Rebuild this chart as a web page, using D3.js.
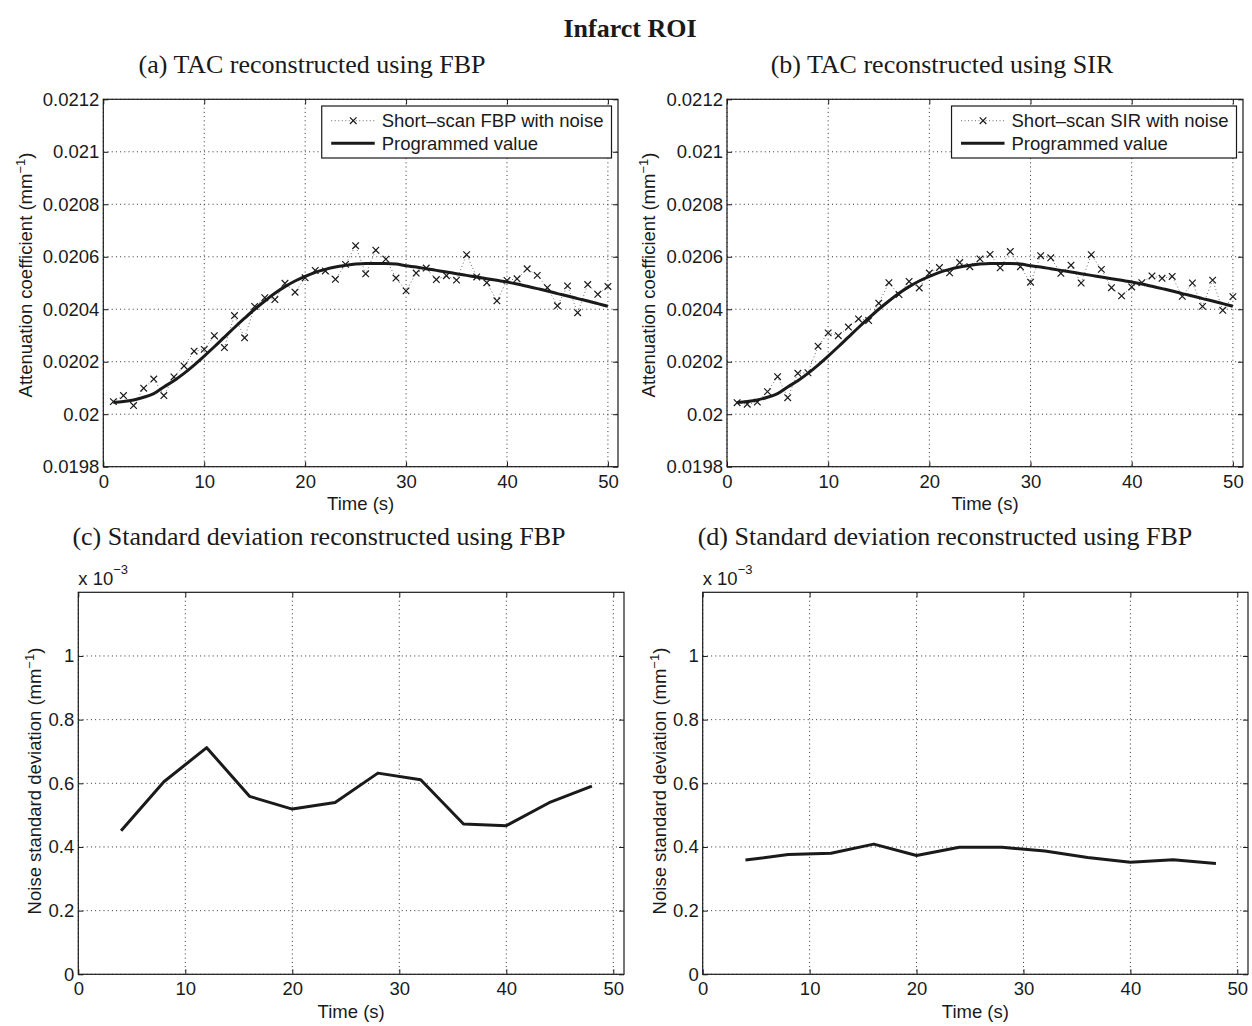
<!DOCTYPE html>
<html>
<head>
<meta charset="utf-8">
<script src="https://cdn.jsdelivr.net/npm/d3@7"></script>
<style>
  body { margin: 0; background: #fff; }
  svg { display: block; }
  .tick text { font-family: "Liberation Sans", Arial, sans-serif; font-size: 18.5px; fill: #1a1a1a; }
  .tick line { stroke: #1a1a1a; }
</style>
</head>
<body>
<div id="chart"></div>
<script>
// time axis of the TAC panels (s)
const time = [1,2,3,4,5,6,7,8,9,10,11,12,13,14,15,16,17,18,19,20,21,22,23,24,25,
              26,27,28,29,30,31,32,33,34,35,36,37,38,39,40,41,42,43,44,45,46,47,48,49,50];

// attenuation coefficient (mm^-1)
const fbpNoisy = [0.020048, 0.020071, 0.020033, 0.020099, 0.020134, 0.020071, 0.020142, 0.020184, 0.020240, 0.020247,
                  0.020299, 0.020254, 0.020376, 0.020291, 0.020411, 0.020444, 0.020437, 0.020499, 0.020465, 0.020520,
                  0.020548, 0.020546, 0.020514, 0.020571, 0.020642, 0.020535, 0.020625, 0.020591, 0.020519, 0.020470,
                  0.020538, 0.020557, 0.020513, 0.020528, 0.020511, 0.020608, 0.020523, 0.020501, 0.020432, 0.020510,
                  0.020516, 0.020554, 0.020529, 0.020482, 0.020413, 0.020489, 0.020387, 0.020494, 0.020457, 0.020487];

const sirNoisy = [0.020044, 0.020038, 0.020046, 0.020086, 0.020143, 0.020063, 0.020156, 0.020158, 0.020259, 0.020310,
                  0.020299, 0.020332, 0.020363, 0.020357, 0.020423, 0.020501, 0.020456, 0.020506, 0.020481, 0.020538,
                  0.020559, 0.020539, 0.020578, 0.020562, 0.020592, 0.020609, 0.020558, 0.020620, 0.020562, 0.020503,
                  0.020604, 0.020596, 0.020537, 0.020568, 0.020500, 0.020608, 0.020552, 0.020482, 0.020451, 0.020485,
                  0.020501, 0.020527, 0.020518, 0.020525, 0.020449, 0.020500, 0.020411, 0.020511, 0.020396, 0.020448];

const programmed = [0.0200443, 0.0200481, 0.0200544, 0.0200646, 0.0200785, 0.0201038, 0.0201278, 0.0201557, 0.0201873, 0.0202215,
                    0.0202570, 0.0202937, 0.0203304, 0.0203658, 0.0204000, 0.0204316, 0.0204608, 0.0204861, 0.0205076, 0.0205253,
                    0.0205405, 0.0205519, 0.0205608, 0.0205671, 0.0205722, 0.0205747, 0.0205747, 0.0205747, 0.0205722, 0.0205658,
                    0.0205608, 0.0205544, 0.0205481, 0.0205418, 0.0205354, 0.0205291, 0.0205228, 0.0205165, 0.0205101, 0.0205038,
                    0.0204962, 0.0204873, 0.0204785, 0.0204696, 0.0204595, 0.0204506, 0.0204405, 0.0204316, 0.0204215, 0.0204114];

// noise standard deviation (x 10^-3 mm^-1)
const stdTime = [4, 8, 12, 16, 20, 24, 28, 32, 36, 40, 44, 48];
const fbpStd = [0.451, 0.605, 0.712, 0.559, 0.519, 0.540, 0.632, 0.611, 0.472, 0.467, 0.539, 0.591];
const sirStd = [0.359, 0.376, 0.380, 0.409, 0.373, 0.399, 0.399, 0.387, 0.367, 0.352, 0.360, 0.348];

const timeTicks = [0, 10, 20, 30, 40, 50];
const tacTicks = [0.0198, 0.02, 0.0202, 0.0204, 0.0206, 0.0208, 0.021, 0.0212];
const stdTicks = [0, 0.2, 0.4, 0.6, 0.8, 1];

const W = 1252, H = 1026;
const ink = "#1a1a1a";
const sans = "'Liberation Sans', Arial, sans-serif";
const serif = "'Liberation Serif', 'Times New Roman', serif";

const svg = d3.select("#chart").append("svg")
    .attr("width", W)
    .attr("height", H);

svg.append("text")
    .attr("x", 630).attr("y", 37)
    .attr("text-anchor", "middle")
    .style("font-family", serif).style("font-size", "26px").style("font-weight", "bold")
    .style("fill", ink)
    .text("Infarct ROI");

const panels = [
  {title: "(a) TAC reconstructed using FBP", titleX: 312, titleY: 73,
   box: {left: 103.3, top: 99.3, right: 618, bottom: 466.7}, ylabX: 31.5, ylabY: 275,
   yDomain: [0.0198, 0.0212], yTicks: tacTicks, ylabel: "Attenuation coefficient (mm",
   noisy: fbpNoisy, noisyName: "Short\u2013scan FBP with noise"},
  {title: "(b) TAC reconstructed using SIR", titleX: 942, titleY: 73,
   box: {left: 727, top: 99.3, right: 1243, bottom: 466.7}, ylabX: 655, ylabY: 275,
   yDomain: [0.0198, 0.0212], yTicks: tacTicks, ylabel: "Attenuation coefficient (mm",
   noisy: sirNoisy, noisyName: "Short\u2013scan SIR with noise"},
  {title: "(c) Standard deviation reconstructed using FBP", titleX: 319, titleY: 545,
   box: {left: 78.3, top: 592.3, right: 624, bottom: 974.3}, ylabX: 41, ylabY: 781,
   yDomain: [0, 1.2], yTicks: stdTicks, ylabel: "Noise standard deviation (mm",
   std: fbpStd},
  {title: "(d) Standard deviation reconstructed using FBP", titleX: 945, titleY: 545,
   box: {left: 702.7, top: 592.3, right: 1248, bottom: 974.3}, ylabX: 665.5, ylabY: 781,
   yDomain: [0, 1.2], yTicks: stdTicks, ylabel: "Noise standard deviation (mm",
   std: sirStd}
];

panels.forEach(function(p) {
  let b = p.box;
  let w = b.right - b.left, h = b.bottom - b.top;

  svg.append("text")
      .attr("x", p.titleX).attr("y", p.titleY)
      .attr("text-anchor", "middle")
      .style("font-family", serif).style("font-size", "26px")
      .style("fill", ink)
      .text(p.title);

  let x = d3.scaleLinear().domain([0, 51]).range([0, w]);
  let y = d3.scaleLinear().domain(p.yDomain).range([h, 0]);

  let g = svg.append("g").attr("transform", `translate(${b.left},${b.top})`);

  // dotted grid
  g.append("g").selectAll("line").data(timeTicks).enter().append("line")
      .attr("x1", d => x(d)).attr("x2", d => x(d))
      .attr("y1", 0).attr("y2", h)
      .attr("stroke", "#333").attr("stroke-width", 1)
      .attr("stroke-dasharray", "1,3.2");
  g.append("g").selectAll("line").data(p.yTicks).enter().append("line")
      .attr("x1", 0).attr("x2", w)
      .attr("y1", d => y(d)).attr("y2", d => y(d))
      .attr("stroke", "#333").attr("stroke-width", 1)
      .attr("stroke-dasharray", "1,3.2");

  // axes with inward ticks
  let fmt = d => String(+d.toFixed(4));
  g.append("g").attr("transform", `translate(0,${h})`)
      .call(d3.axisBottom(x).tickValues(timeTicks).tickSize(-5).tickPadding(8).tickFormat(fmt))
      .call(a => a.select(".domain").remove());
  g.append("g")
      .call(d3.axisLeft(y).tickValues(p.yTicks).tickSize(-5).tickPadding(4).tickFormat(fmt))
      .call(a => a.select(".domain").remove());
  g.append("g")
      .call(d3.axisTop(x).tickValues(timeTicks).tickSize(-5).tickFormat(""))
      .call(a => a.select(".domain").remove());
  g.append("g").attr("transform", `translate(${w},0)`)
      .call(d3.axisRight(y).tickValues(p.yTicks).tickSize(-5).tickFormat(""))
      .call(a => a.select(".domain").remove());

  g.append("rect")
      .attr("width", w).attr("height", h)
      .attr("fill", "none").attr("stroke", ink).attr("stroke-width", 1.2);

  // axis labels
  svg.append("text")
      .attr("x", b.left + w / 2).attr("y", b.bottom + 43.5)
      .attr("text-anchor", "middle")
      .style("font-family", sans).style("font-size", "18.5px").style("fill", ink)
      .text("Time (s)");

  let yl = svg.append("text")
      .attr("transform", `translate(${p.ylabX},${p.ylabY}) rotate(-90)`)
      .attr("text-anchor", "middle")
      .style("font-family", sans).style("font-size", "18.5px").style("fill", ink);
  yl.append("tspan").text(p.ylabel);
  yl.append("tspan").attr("dy", -7).style("font-size", "13px").text("\u22121");
  yl.append("tspan").attr("dy", 7).text(")");

  if (p.noisy) {
    let pts = time.map((t, i) => [x(t), y(p.noisy[i])]);
    let cur = time.map((t, i) => [x(t), y(programmed[i])]);

    g.append("path")
        .attr("d", d3.line()(pts))
        .attr("fill", "none").attr("stroke", "#444")
        .attr("stroke-width", 0.8).attr("stroke-dasharray", "1,2.5");

    g.append("g").selectAll("path").data(pts).enter().append("path")
        .attr("d", d => `M${d[0]-3.3},${d[1]-3.3}L${d[0]+3.3},${d[1]+3.3}M${d[0]-3.3},${d[1]+3.3}L${d[0]+3.3},${d[1]-3.3}`)
        .attr("stroke", ink).attr("stroke-width", 1.2);

    g.append("path")
        .attr("d", d3.line().curve(d3.curveMonotoneX)(cur))
        .attr("fill", "none").attr("stroke", ink).attr("stroke-width", 3);

    // legend
    let lg = g.append("g");
    let box = lg.append("rect")
        .attr("y", 6.7).attr("height", 52)
        .attr("fill", "#fff").attr("stroke", ink).attr("stroke-width", 1.2);
    let t1 = lg.append("text")
        .attr("y", 6.7 + 14.7).attr("dy", "0.35em")
        .style("font-family", sans).style("font-size", "18.5px").style("fill", ink)
        .text(p.noisyName);
    let t2 = lg.append("text")
        .attr("y", 6.7 + 37.3).attr("dy", "0.35em")
        .style("font-family", sans).style("font-size", "18.5px").style("fill", ink)
        .text("Programmed value");
    let bw = 60 + Math.max(t1.node().getComputedTextLength(), t2.node().getComputedTextLength()) + 8;
    let bx = w - 6.5 - bw;
    box.attr("x", bx).attr("width", bw);
    t1.attr("x", bx + 60);
    t2.attr("x", bx + 60);
    let r1 = 6.7 + 14.7, r2 = 6.7 + 37.3;
    lg.append("line")
        .attr("x1", bx + 9.5).attr("x2", bx + 53).attr("y1", r1).attr("y2", r1)
        .attr("stroke", "#444").attr("stroke-width", 0.8).attr("stroke-dasharray", "1,2.5");
    let mx = bx + 31.5;
    lg.append("path")
        .attr("d", `M${mx-3.3},${r1-3.3}L${mx+3.3},${r1+3.3}M${mx-3.3},${r1+3.3}L${mx+3.3},${r1-3.3}`)
        .attr("stroke", ink).attr("stroke-width", 1.2);
    lg.append("line")
        .attr("x1", bx + 9.5).attr("x2", bx + 53).attr("y1", r2).attr("y2", r2)
        .attr("stroke", ink).attr("stroke-width", 3);
  } else {
    g.append("path")
        .attr("d", d3.line()(stdTime.map((t, i) => [x(t), y(p.std[i])])))
        .attr("fill", "none").attr("stroke", ink).attr("stroke-width", 3)
        .attr("stroke-linejoin", "round");

    let ex = svg.append("text")
        .attr("x", b.left).attr("y", b.top - 7.5)
        .style("font-family", sans).style("font-size", "18.5px").style("fill", ink);
    ex.append("tspan").text("x 10");
    ex.append("tspan").attr("dy", -11).style("font-size", "13px").text("\u22123");
  }
});
</script>
</body>
</html>
